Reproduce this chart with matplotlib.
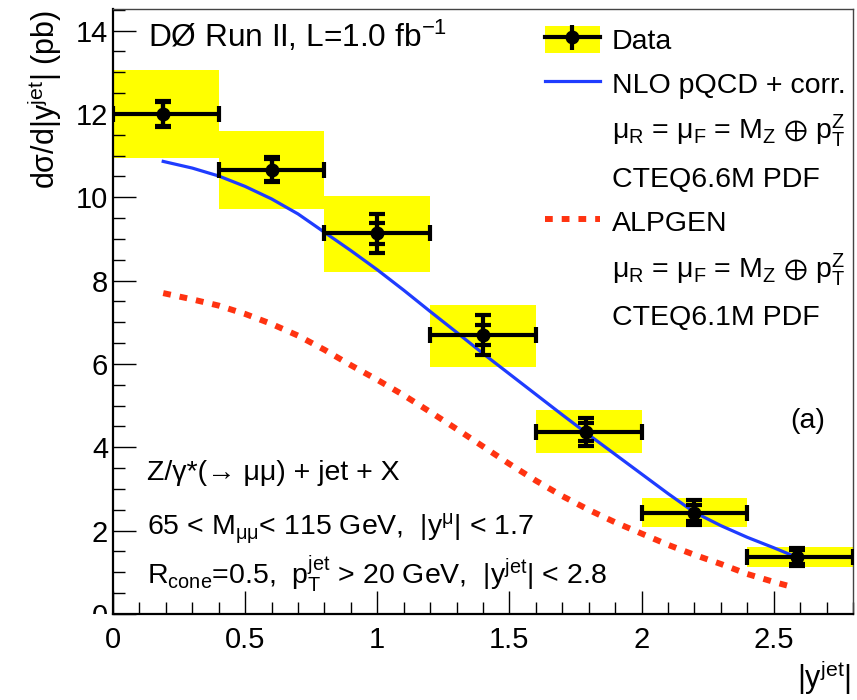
import numpy as np
import matplotlib
matplotlib.use("Agg")
import matplotlib.pyplot as plt
from matplotlib.patches import Patch
from matplotlib.lines import Line2D
from matplotlib.legend_handler import HandlerTuple
from matplotlib.ticker import MultipleLocator, FormatStrFormatter
from matplotlib.transforms import Bbox, TransformedBbox, blended_transform_factory

plt.rcParams['font.family'] = ['Liberation Sans', 'DejaVu Sans']
plt.rcParams['mathtext.fontset'] = 'custom'
plt.rcParams['mathtext.rm'] = 'Liberation Sans'
plt.rcParams['mathtext.it'] = 'Liberation Sans'
plt.rcParams['mathtext.bf'] = 'Liberation Sans:bold'
plt.rcParams['mathtext.default'] = 'regular'

# ---------------- Data ----------------
bin_edges = [0.0, 0.4, 0.8, 1.2, 1.6, 2.0, 2.4, 2.8]
data_x = [0.19, 0.60, 1.00, 1.40, 1.79, 2.20, 2.59]
data_y = [12.00, 10.66, 9.14, 6.70, 4.37, 2.43, 1.37]
err_tot = [0.32, 0.30, 0.47, 0.48, 0.33, 0.30, 0.22]
err_stat = [0.28, 0.26, 0.25, 0.24, 0.21, 0.19, 0.16]
sys_lo = [10.93, 9.72, 8.20, 5.93, 3.86, 2.08, 1.13]
sys_hi = [13.06, 11.59, 10.03, 7.42, 4.90, 2.78, 1.60]

nlo_x = [0.19, 0.3, 0.4, 0.5, 0.6, 0.7, 0.8, 0.9, 1.0, 1.1, 1.2, 1.3, 1.4,
         1.5, 1.6, 1.7, 1.8, 1.9, 2.0, 2.1, 2.2, 2.3, 2.4, 2.5, 2.58]
nlo_y = [10.86, 10.70, 10.51, 10.26, 9.96, 9.60, 9.16, 8.72, 8.26, 7.77, 7.26,
         6.76, 6.25, 5.76, 5.27, 4.78, 4.30, 3.83, 3.36, 2.89, 2.44, 2.12,
         1.84, 1.59, 1.38]

alp_x = [0.19, 0.3, 0.4, 0.5, 0.6, 0.7, 0.8, 0.9, 1.0, 1.1, 1.2, 1.3, 1.4,
         1.5, 1.6, 1.7, 1.8, 1.9, 2.0, 2.1, 2.2, 2.3, 2.4, 2.5, 2.57]
alp_y = [7.70, 7.55, 7.40, 7.20, 6.96, 6.68, 6.34, 5.97, 5.62, 5.25, 4.85,
         4.44, 4.02, 3.60, 3.20, 2.83, 2.50, 2.20, 1.93, 1.66, 1.42, 1.20,
         0.96, 0.77, 0.65]

mu_label = r"$\mu_{R}$ = $\mu_{F}$ = M$_{Z}$ $\oplus$ p$_{T}^{Z}$"
legend_labels = ["Data", "NLO pQCD + corr.", mu_label, "CTEQ6.6M PDF",
                 "ALPGEN", mu_label, "CTEQ6.1M PDF"]

# ---------------- Plot ----------------
yellow = '#ffff00'
blue = '#1f3cff'
red = '#ff3311'
fs = 20.5

fig = plt.figure(figsize=(8.57, 7.0), dpi=100)
ax = fig.add_axes([113/857, 86/700, 740/857, 604.7/700])

lo = np.array(sys_lo)
hi = np.array(sys_hi)
edges = np.array(bin_edges)
x = np.array(data_x)
ax.bar(edges[:-1], hi - lo, bottom=lo, width=np.diff(edges), align='edge',
       color=yellow, linewidth=0, zorder=1)

ax.plot(alp_x, alp_y, color=red, lw=4.3, dashes=(1.3, 1.5),
        dash_capstyle='butt', zorder=2)
ax.plot(nlo_x, nlo_y, color=blue, lw=2.3, zorder=3)

ax.errorbar(x, data_y, xerr=[x - edges[:-1], edges[1:] - x], yerr=err_tot,
            fmt='o', color='k', ms=9, elinewidth=3, capsize=6, capthick=3,
            zorder=4)
ax.errorbar(x, data_y, yerr=err_stat, fmt='none', ecolor='k',
            elinewidth=3, capsize=6, capthick=3, zorder=4)

ax.set_xlim(0, 2.8)
ax.set_ylim(0, 14.51)
ax.set_yticks(range(0, 15, 2))
ax.yaxis.set_minor_locator(MultipleLocator(0.5))
ax.xaxis.set_major_locator(MultipleLocator(0.5))
ax.xaxis.set_minor_locator(MultipleLocator(0.1))
ax.xaxis.set_major_formatter(FormatStrFormatter('%g'))
ax.tick_params(which='both', direction='in', top=False, right=False,
               width=1, labelsize=21)
ax.tick_params(which='major', length=16.5)
ax.tick_params(which='minor', length=8.5)
ax.tick_params(axis='y', pad=3.6)
ax.tick_params(axis='x', pad=9)
for s in ['left', 'bottom']:
    ax.spines[s].set_linewidth(1.6)
    ax.spines[s].set_color('k')
for s in ['top', 'right']:
    ax.spines[s].set_linewidth(1.0)
    ax.spines[s].set_color('#444444')

# the y "0" label is cut at the x axis, as in the original
clip = TransformedBbox(Bbox([[0, 0], [1, 1.2]]),
                       blended_transform_factory(fig.transFigure, ax.transAxes))
for lbl in ax.get_yticklabels():
    lbl.set_clip_box(clip)
    lbl.set_clip_on(True)

# legend
data_handle = (Patch(facecolor=yellow, edgecolor='none'),
               Line2D([], [], color='k', lw=3, marker='o', ms=9),
               Line2D([], [], color='k', lw=0, marker='|', ms=18, mew=3))
blank = Line2D([], [], alpha=0)
handles = [data_handle,
           Line2D([], [], color=blue, lw=2.3),
           blank, blank,
           Line2D([], [], color=red, lw=4.3, dashes=(1.3, 1.5)),
           blank, blank]
ax.legend(handles, legend_labels, loc='upper left',
          bbox_to_anchor=(0.5838, 0.973), frameon=False, fontsize=fs,
          borderpad=0, borderaxespad=0, handlelength=1.93, handleheight=1.1,
          handletextpad=0.42, labelspacing=0.5,
          handler_map={tuple: HandlerTuple(ndivide=1, pad=0)})

# texts
ax.text(0.0473, 0.938, r"DØ Run II, L=1.0 fb$^{-1}$", transform=ax.transAxes,
        fontsize=22.8, va='baseline')
ax.text(0.915, 0.3076, "(a)", transform=ax.transAxes, fontsize=fs,
        va='baseline')
ax.text(0.046, 0.2216, "Z/γ*(→ μμ) + jet + X",
        transform=ax.transAxes, fontsize=fs, va='baseline')
ax.text(0.046, 0.1306, r"65 < M$_{\mu\mu}$< 115 GeV,  |y$^{\mu}$| < 1.7",
        transform=ax.transAxes, fontsize=fs, va='baseline')
ax.text(0.046, 0.048,
        r"R$_{cone}$=0.5,  p$_{T}^{jet}$ > 20 GeV,  |y$^{jet}$| < 2.8",
        transform=ax.transAxes, fontsize=fs, va='baseline')

fig.text(0.075, 0.986, r"d$\sigma$/d|y$^{jet}$| (pb)", rotation=90,
         ha='right', va='top', fontsize=22)
fig.text(0.993, 0.004, r"|y$^{jet}$|", ha='right', va='bottom', fontsize=22)

fig.savefig("out.png", dpi=100)
